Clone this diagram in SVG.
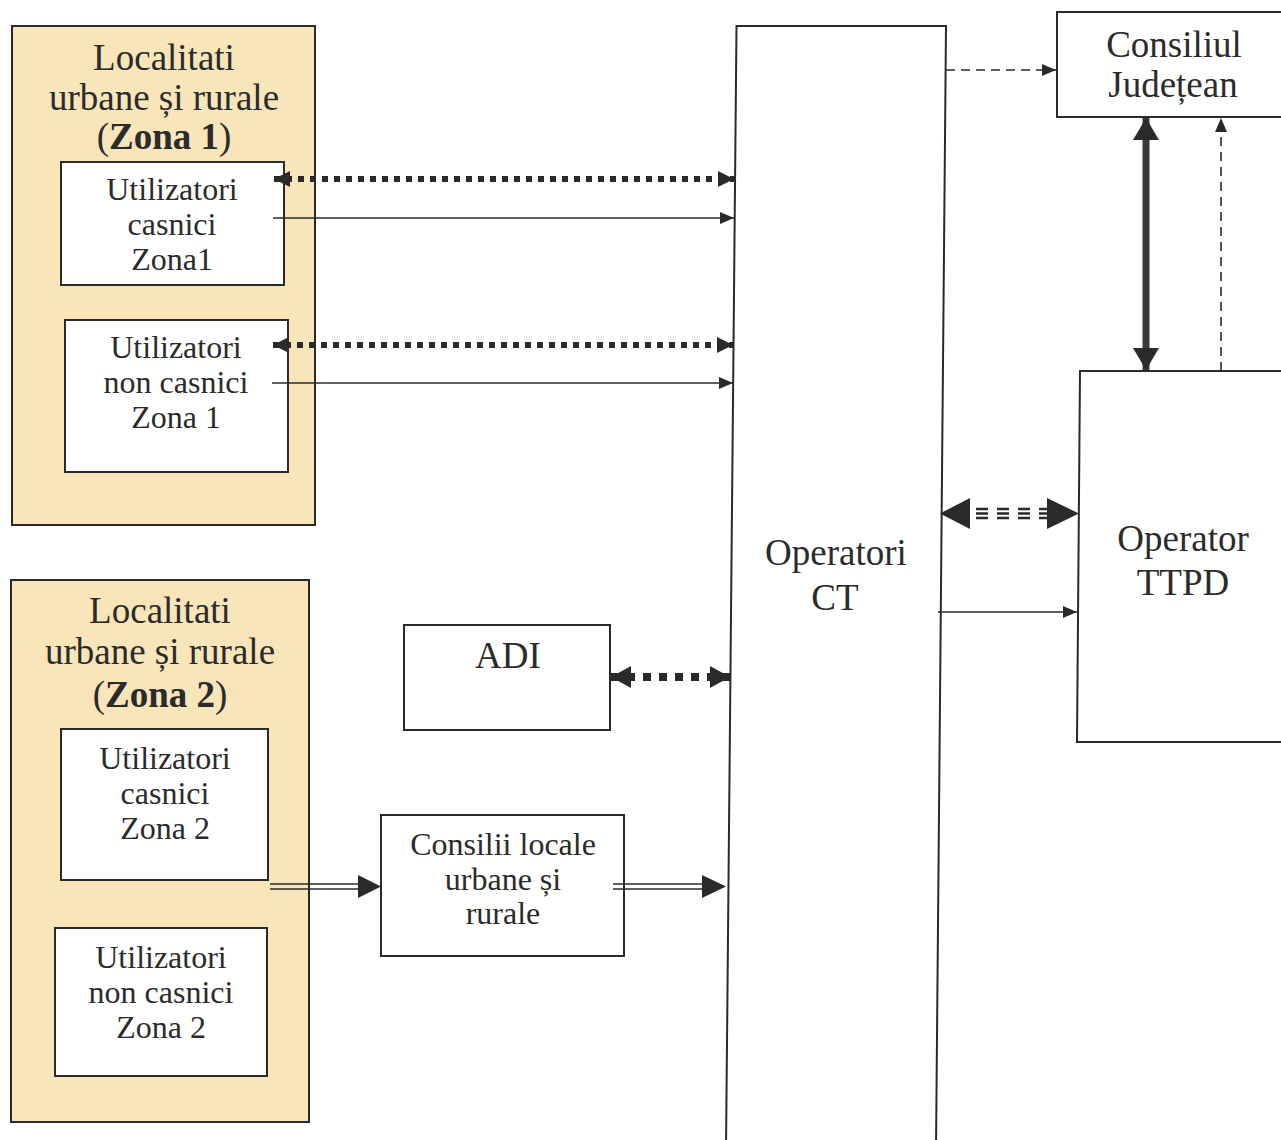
<svg xmlns="http://www.w3.org/2000/svg" width="1281" height="1140" viewBox="0 0 1281 1140">
<style>
text{font-family:"Liberation Serif","Times New Roman",serif;fill:#2b2b2b;text-anchor:middle}
.t36{font-size:37px}
.t31{font-size:32px}
.zone{fill:#f8e5b9;stroke:#2a2a2a;stroke-width:2}
.box{fill:#fff;stroke:#2a2a2a;stroke-width:2}
.thin{stroke:#2a2a2a;stroke-width:1.6;fill:none}
.dot{stroke:#2a2a2a;stroke-width:6;stroke-dasharray:6 6;fill:none}
.head{fill:#2a2a2a}
</style>
<defs>
<marker id="ahs" markerUnits="userSpaceOnUse" markerWidth="14" markerHeight="12" refX="14" refY="6" orient="auto-start-reverse"><path d="M0,0 L14,6 L0,12 z" class="head"/></marker>
<marker id="ahm" markerUnits="userSpaceOnUse" markerWidth="16" markerHeight="16" refX="16" refY="8" orient="auto-start-reverse"><path d="M0,0 L16,8 L0,16 z" class="head"/></marker>
<marker id="ahl" markerUnits="userSpaceOnUse" markerWidth="20" markerHeight="22" refX="20" refY="11" orient="auto-start-reverse"><path d="M0,0 L20,11 L0,22 z" class="head"/></marker>
<marker id="ahv" markerUnits="userSpaceOnUse" markerWidth="22" markerHeight="26" refX="22" refY="13" orient="auto-start-reverse"><path d="M0,0 L22,13 L0,26 z" class="head"/></marker>
</defs>

<rect width="1281" height="1140" fill="#fff"/>

<g id="zona1">
<rect class="zone" x="12" y="26" width="303" height="499"/>
<text class="t36" x="164" y="70">Localitati</text>
<text class="t36" x="164" y="110">urbane și rurale</text>
<text class="t36" x="164" y="149">(<tspan font-weight="bold">Zona 1</tspan>)</text>
</g>
<g id="casnici1">
<rect class="box" x="61" y="162" width="223" height="123"/>
<text class="t31" x="172" y="200">Utilizatori</text>
<text class="t31" x="172" y="235">casnici</text>
<text class="t31" x="172" y="270">Zona1</text>
</g>
<g id="noncasnici1">
<rect class="box" x="65" y="320" width="223" height="152"/>
<text class="t31" x="176" y="358">Utilizatori</text>
<text class="t31" x="176" y="393">non casnici</text>
<text class="t31" x="176" y="428">Zona 1</text>
</g>

<g id="zona2">
<rect class="zone" x="11" y="580" width="298" height="542"/>
<text class="t36" x="160" y="623">Localitati</text>
<text class="t36" x="160" y="664">urbane și rurale</text>
<text class="t36" x="160" y="707">(<tspan font-weight="bold">Zona 2</tspan>)</text>
</g>
<g id="casnici2">
<rect class="box" x="61" y="729" width="207" height="151"/>
<text class="t31" x="165" y="769">Utilizatori</text>
<text class="t31" x="165" y="804">casnici</text>
<text class="t31" x="165" y="839">Zona 2</text>
</g>
<g id="noncasnici2">
<rect class="box" x="55" y="928" width="212" height="148"/>
<text class="t31" x="161" y="968">Utilizatori</text>
<text class="t31" x="161" y="1003">non casnici</text>
<text class="t31" x="161" y="1038">Zona 2</text>
</g>

<g id="adi">
<rect class="box" x="404" y="625" width="206" height="105"/>
<text class="t36" x="508" y="668">ADI</text>
</g>
<g id="consilii">
<rect class="box" x="381" y="815" width="243" height="141"/>
<text class="t31" x="503" y="855">Consilii locale</text>
<text class="t31" x="503" y="890">urbane și</text>
<text class="t31" x="503" y="924">rurale</text>
</g>

<g id="operatori-ct">
<path d="M726,1150 L736.5,26 L946,26 L936,1150" fill="#fff" stroke="#2a2a2a" stroke-width="2"/>
<text class="t36" x="836" y="565">Operatori</text>
<text class="t36" x="835" y="610">CT</text>
</g>

<g id="consiliul-judetean">
<rect class="box" x="1057" y="12" width="226" height="105"/>
<text class="t36" x="1174" y="57">Consiliul</text>
<text class="t36" x="1173" y="97">Județean</text>
</g>

<g id="operator-ttpd">
<path d="M1283,371 L1080,371 L1077,742 L1283,742" fill="#fff" stroke="#2a2a2a" stroke-width="2"/>
<text class="t36" x="1183" y="551">Operator</text>
<text class="t36" x="1183" y="595">TTPD</text>
</g>

<g id="connectors">
<line class="dot" x1="274" y1="179" x2="734" y2="179" marker-start="url(#ahm)" marker-end="url(#ahm)"/>
<line class="thin" x1="273" y1="218" x2="734" y2="218" marker-end="url(#ahs)"/>
<line class="dot" x1="273" y1="345" x2="733" y2="345" marker-start="url(#ahm)" marker-end="url(#ahm)"/>
<line class="thin" x1="272" y1="383" x2="733" y2="383" marker-end="url(#ahs)"/>
<line stroke="#2a2a2a" stroke-width="8" stroke-dasharray="8 8" x1="611" y1="677" x2="730" y2="677" marker-start="url(#ahl)" marker-end="url(#ahl)"/>
<line class="thin" x1="270" y1="884" x2="362" y2="884"/>
<line class="thin" x1="270" y1="889" x2="362" y2="889"/>
<path class="head" d="M358,875 L381,886.5 L358,898 z"/>
<line class="thin" x1="613" y1="884" x2="706" y2="884"/>
<line class="thin" x1="613" y1="889" x2="706" y2="889"/>
<path class="head" d="M702,875 L726,886.5 L702,898 z"/>
<line class="thin" stroke-dasharray="9 6" x1="946" y1="70" x2="1056" y2="70" marker-end="url(#ahs)"/>
<line stroke="#3a3a3a" stroke-width="7" x1="1146" y1="118" x2="1146" y2="370" marker-start="url(#ahv)" marker-end="url(#ahv)"/>
<line class="thin" stroke-dasharray="9 6" x1="1221" y1="371" x2="1221" y2="118" marker-end="url(#ahs)"/>
<g stroke="#2a2a2a" stroke-width="2.4" stroke-dasharray="12 9">
<line x1="976" y1="509" x2="1052" y2="509"/>
<line x1="976" y1="513.5" x2="1052" y2="513.5"/>
<line x1="976" y1="518" x2="1052" y2="518"/>
</g>
<path class="head" d="M940,513.5 L970,498 L970,529 z"/>
<path class="head" d="M1079,513.5 L1047,498 L1047,529 z"/>
<line class="thin" x1="938" y1="612" x2="1077" y2="612" marker-end="url(#ahs)"/>
</g>
</svg>
